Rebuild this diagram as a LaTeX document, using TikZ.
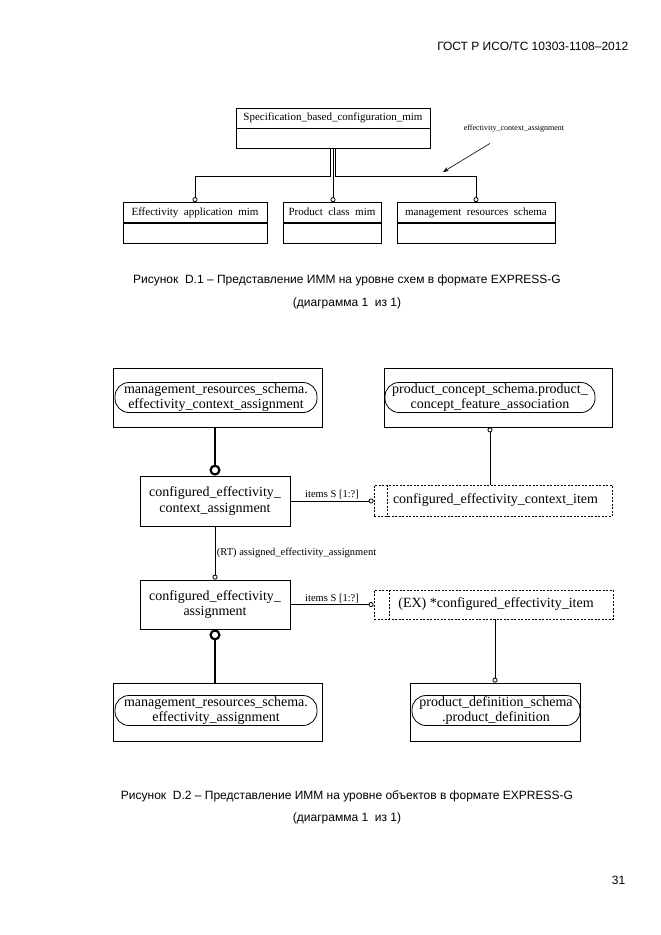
\documentclass[tikz,border=0pt]{standalone}
\usepackage{fontspec}
\setmainfont{Liberation Serif}
\newfontfamily\capfont{Liberation Sans}
\usetikzlibrary{positioning, arrows.meta}

\begin{document}
\begin{tikzpicture}[x=1pt, y=-1pt, >=Stealth, line width=0.8pt,
    schema/.style={draw, minimum height=20pt, inner sep=0pt, text height=7.5pt, text depth=2pt, font=\fontsize{11}{12}\selectfont},
    entity/.style={draw, align=center, inner sep=0pt, font=\fontsize{14}{15.5}\selectfont},
    ref/.style={draw, rounded corners=14pt, align=center, minimum height=30pt, inner sep=0pt, anchor=west, font=\fontsize{14}{15}\selectfont},
    select/.style={draw, dash pattern=on 2pt off 1.5pt, inner sep=0pt, font=\fontsize{14}{15}\selectfont},
    caption/.style={font=\capfont\fontsize{12}{15}\selectfont},
    lbl/.style={font=\fontsize{10.5}{12}\selectfont, inner sep=1.5pt},
    rel/.style={-{Circle[open, length=5pt]}},
    thickrel/.style={line width=2.8pt, -{Circle[open, length=11pt, line width=2.2pt]}}]

    \useasboundingbox (0,0) rectangle (661,935);

    \node[caption, anchor=east] (hdr) at (632,46) {ГОСТ Р ИСО/ТС 10303-1108–2012};

    % schema level
    \node[schema, minimum width=194pt] (spec) at (333,118) {Specification\_based\_configuration\_mim};
    \node[schema, minimum width=194pt, below=0pt of spec] (specB) {};
    \node[schema, minimum width=144pt] (eam) at (195,212.5) {Effectivity\ \ application\ \ mim};
    \node[schema, minimum width=144pt, below=0pt of eam] (eamB) {};
    \node[schema, minimum width=98pt] (pcm) at (332,212.5) {Product\ \ class\ \ mim};
    \node[schema, minimum width=98pt, below=0pt of pcm] (pcmB) {};
    \node[schema, minimum width=158pt] (mrs) at (476,212.5) {management\ \ resources\ \ schema};
    \node[schema, minimum width=158pt, below=0pt of mrs] (mrsB) {};

    \draw[rel] ([xshift=-2.5pt]specB.south) -- ++(0,27) -| (eam.north);
    \draw[rel] (specB.south) -- (specB.south |- pcm.north);
    \draw[rel] ([xshift=2.5pt]specB.south) -- ++(0,27) -| (mrs.north);

    \node[font=\fontsize{8}{9}\selectfont] (ecalbl) at (514,129) {effectivity\_context\_assignment};
    \coordinate (ecatip) at (443,172);
    \draw[->, line width=0.6pt] ([xshift=-24pt, yshift=-7pt]ecalbl.south) -- (ecatip);

    \node[caption] (cap1) at (347,280) {Рисунок\ \ D.1 – Представление ИММ на уровне схем в формате EXPRESS-G};
    \node[caption] (cap1b) at (347,303) {(диаграмма 1\ \ из 1)};

    % entity level
    \node[entity, minimum width=209pt, minimum height=59pt] (mrsecaB) at (217.5,397.5) {};
    \node[ref, minimum width=202pt] (mrseca) at ([xshift=2pt]mrsecaB.west) {management\_resources\_schema.\\effectivity\_context\_assignment};
    \node[entity, minimum width=228pt, minimum height=59pt] (pcsB) at (498,397.5) {};
    \node[ref, minimum width=210pt] (pcs) at ([xshift=1pt]pcsB.west) {product\_concept\_schema.product\_\\concept\_feature\_association};

    \node[entity, minimum width=150pt, minimum height=50pt] (cfeca) at (215,501) {configured\_effectivity\_\\context\_assignment};
    \node[select, minimum width=238pt, minimum height=31pt] (ceci) at (493,500.5) {\hspace{5pt}configured\_effectivity\_context\_item};
    \draw[dash pattern=on 2pt off 1.5pt] ([xshift=14pt]ceci.north west) -- ([xshift=14pt]ceci.south west);

    \node[entity, minimum width=150pt, minimum height=49pt] (cfea) at (215,604.5) {configured\_effectivity\_\\assignment};
    \node[select, minimum width=239pt, minimum height=29pt] (cei) at (493.5,604.5) {\hspace{5pt}(EX) *configured\_effectivity\_item};
    \draw[dash pattern=on 2pt off 1.5pt] ([xshift=16pt]cei.north west) -- ([xshift=16pt]cei.south west);

    \node[entity, minimum width=209pt, minimum height=58pt] (mrseaB) at (217.5,712) {};
    \node[ref, minimum width=202pt] (mrsea) at ([xshift=2pt, yshift=1.5pt]mrseaB.west) {management\_resources\_schema.\\effectivity\_assignment};
    \node[entity, minimum width=170pt, minimum height=58pt] (pdsB) at (495,712) {};
    \node[ref, minimum width=168pt] (pds) at ([xshift=2pt, yshift=1.5pt]pdsB.west) {product\_definition\_schema\\.product\_definition};

    \draw[thickrel] (mrsecaB.south -| cfeca.north) -- (cfeca.north);
    \draw[rel] (cfeca.east) -- node[lbl, above] {items S [1:?]} (cfeca.east -| ceci.west);
    \draw[rel] (ceci.north -| pcs.south) -- (pcs.south |- pcsB.south);
    \draw[rel] (cfeca.south) -- node[lbl, right] {(RT) assigned\_effectivity\_assignment} (cfea.north);
    \draw[rel] (cfea.east) -- node[lbl, above] {items S [1:?]} (cfea.east -| cei.west);
    \draw[thickrel] (mrseaB.north -| cfea.south) -- (cfea.south);
    \draw[rel] (cei.south -| pdsB.north) -- (pdsB.north);

    \node[caption] (cap2) at (347,796) {Рисунок\ \ D.2 – Представление ИММ на уровне объектов в формате EXPRESS-G};
    \node[caption] (cap2b) at (347,818) {(диаграмма 1\ \ из 1)};

    \node[caption, anchor=east] (pg) at (629,880) {31};

\end{tikzpicture}
\end{document}
